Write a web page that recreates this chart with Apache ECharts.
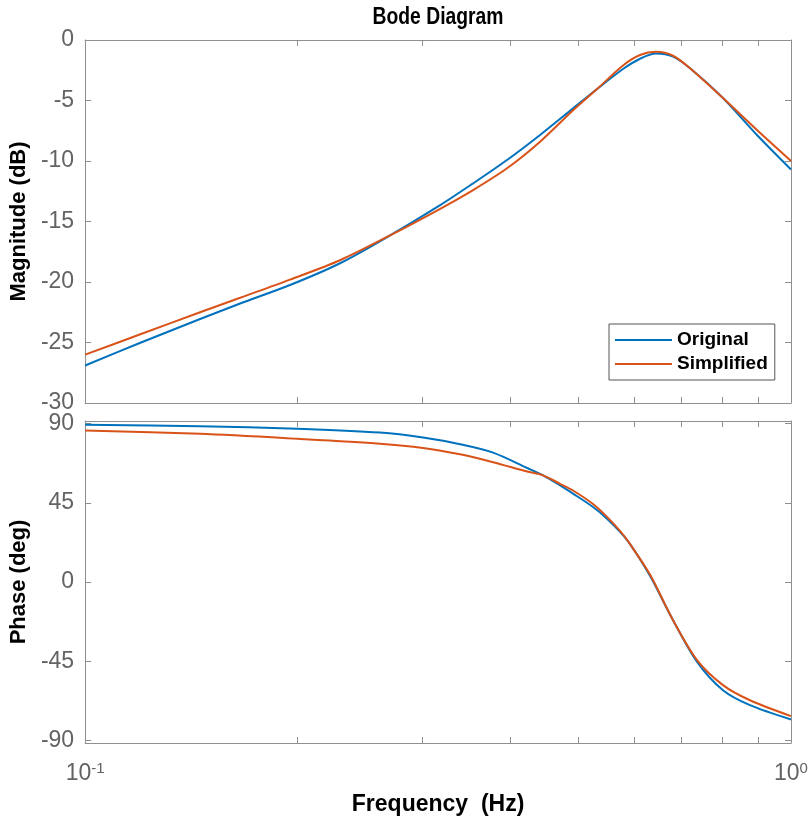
<!DOCTYPE html>
<html><head><meta charset="utf-8">
<script src="https://cdn.jsdelivr.net/npm/echarts@6/dist/echarts.min.js"></script>
<style>html,body{margin:0;padding:0;background:#fff}#c{width:811px;height:817px}</style>
</head><body><div id="c"></div><script>
// ---- data ----
const magFreq = [0.1, 0.12, 0.1455, 0.1658, 0.1951, 0.2297, 0.2704, 0.3184, 0.3545, 0.396, 0.4411, 0.4912, 0.5312, 0.5781, 0.6111, 0.6439, 0.6806, 0.7194, 0.801, 0.8949, 1.0];
const magOriginal = [-26.9, -25.0, -23.06, -21.78, -20.25, -18.45, -16.15, -13.65, -11.85, -9.92, -7.85, -5.65, -4.05, -2.4, -1.55, -1.12, -1.38, -2.34, -4.8, -7.85, -10.7];
const magSimplified = [-26.0, -24.3, -22.5, -21.3, -19.8, -18.2, -16.15, -13.95, -12.4, -10.6, -8.4, -5.8, -4.05, -2.1, -1.24, -0.98, -1.3, -2.34, -4.8, -7.44, -10.0];
const phaseFreq = [0.1, 0.1455, 0.1997, 0.2617, 0.3011, 0.3398, 0.3784, 0.4227, 0.4454, 0.4708, 0.4912, 0.5243, 0.5487, 0.5725, 0.5916, 0.6313, 0.6806, 0.7361, 0.801, 0.8747, 1.0];
const phaseOriginal = [89.3, 88.5, 87.1, 84.9, 82.1, 78.3, 73.5, 64.8, 60.6, 54.9, 50.2, 42.6, 36.0, 28.5, 21.5, 3.5, -21.7, -45.4, -61.5, -70.0, -78.1];
const phaseSimplified = [86.1, 84.2, 81.4, 78.6, 76.2, 72.6, 68.1, 62.8, 60.6, 55.8, 52.0, 44.3, 37.0, 29.0, 21.5, 4.2, -21.7, -44.4, -58.6, -67.2, -76.2];
const seriesNames = ['Original', 'Simplified'];
const xTickValues = [0.1, 0.2, 0.3, 0.4, 0.5, 0.6, 0.7, 0.8, 0.9, 1];
const xLabelValues = [0.1, 1];
const phaseTicks = [-90, -45, 0, 45, 90];
const titleText = 'Bode Diagram';
const magLabel = 'Magnitude (dB)';
const phaseLabel = 'Phase (deg)';
const freqLabel = 'Frequency  (Hz)';

const pairs = (xs, ys) => xs.map((x, i) => [x, ys[i]]);
const axisColor = '#8f8f8f';
const tickColor = '#636363';
const narrow = "'Liberation Sans Narrow', 'Liberation Sans', Arial, sans-serif";
const wide = "'Liberation Sans', Arial, sans-serif";
const blue = '#0072BD', orange = '#D95319';

function xAx(grid, pos, labels) {
  const a = {
    type: 'log', logBase: 10, gridIndex: grid, position: pos, min: 0.1, max: 1,
    axisLine: { show: true, onZero: false, lineStyle: { color: axisColor, width: 1 } },
    axisTick: { show: true, inside: true, length: 6, customValues: xTickValues, lineStyle: { color: axisColor } },
    axisLabel: { show: false },
    splitLine: { show: false }, minorTick: { show: false }
  };
  if (labels) {
    a.axisLabel = {
      show: true, customValues: xLabelValues, margin: 18,
      formatter: v => v < 0.5 ? '{b|10}{s|-1}' : '{b|10}{s|0}',
      rich: {
        b: { fontFamily: narrow, fontSize: 23, color: tickColor },
        s: { fontFamily: narrow, fontSize: 15, color: tickColor, verticalAlign: 'bottom', padding: [0, 0, 10, 0] }
      }
    };
    a.name = freqLabel; a.nameLocation = 'middle'; a.nameGap = 50;
    a.nameTextStyle = { fontFamily: narrow, fontWeight: 'bold', fontSize: 23, color: '#000' };
  }
  return a;
}
function yAx(grid, pos, opts, name) {
  const a = Object.assign({
    type: 'value', gridIndex: grid, position: pos,
    axisLine: { show: true, lineStyle: { color: axisColor, width: 1 } },
    axisTick: { show: true, inside: true, length: 6, lineStyle: { color: axisColor } },
    axisLabel: { show: pos === 'left', fontFamily: narrow, fontSize: 23, color: tickColor, margin: 11 },
    splitLine: { show: false }
  }, opts);
  if (name) {
    a.name = name; a.nameLocation = 'middle'; a.nameGap = 47;
    a.nameTextStyle = { fontFamily: wide, fontWeight: 'bold', fontSize: 22, color: '#000' };
  }
  return a;
}
const magOpts = { min: -30, max: 0, interval: 5 };
const phOptsL = { min: -91.5, max: 91.5,
  axisTick: { show: true, inside: true, length: 6, customValues: phaseTicks, lineStyle: { color: axisColor } },
  axisLabel: { show: true, customValues: phaseTicks, fontFamily: narrow, fontSize: 23, color: tickColor, margin: 11 } };
const phOptsR = { min: -91.5, max: 91.5,
  axisTick: { show: true, inside: true, length: 6, customValues: phaseTicks, lineStyle: { color: axisColor } },
  axisLabel: { show: false } };

const lineSeries = (name, color, xi, yi, data) => ({
  name, type: 'line', xAxisIndex: xi, yAxisIndex: yi, data,
  symbol: 'none', smooth: 0.3, lineStyle: { color, width: 2 }, itemStyle: { color },
  z: name === 'Simplified' ? 3 : 2, animation: false
});

const chart = echarts.init(document.getElementById('c'), null, { renderer: 'canvas' });
chart.setOption({
  backgroundColor: '#fff',
  animation: false,
  graphic: [{ type: 'text', x: 438, y: 6, scaleX: 0.84,
    style: { text: titleText, align: 'center', fontFamily: narrow, fontWeight: 'bold', fontSize: 23, fill: '#000' } }],
  grid: [
    { left: 85, top: 40, width: 706, height: 363, containLabel: false },
    { left: 85, top: 421, width: 706, height: 322, containLabel: false }
  ],
  xAxis: [xAx(0, 'bottom', false), xAx(0, 'top', false), xAx(1, 'bottom', true), xAx(1, 'top', false)],
  yAxis: [
    yAx(0, 'left', magOpts, magLabel), yAx(0, 'right', magOpts),
    yAx(1, 'left', phOptsL, phaseLabel), yAx(1, 'right', phOptsR)
  ],
  legend: {
    data: seriesNames.map(n => ({ name: n, icon: 'rect' })),
    orient: 'vertical', left: 609, top: 324,
    itemWidth: 57, itemHeight: 2, itemGap: 0, padding: [4, 7, 4, 6],
    borderColor: '#555', borderWidth: 1, backgroundColor: '#fff',
    textStyle: { fontFamily: wide, fontWeight: 'bold', fontSize: 19, lineHeight: 24, color: '#000' }
  },
  series: [
    lineSeries(seriesNames[0], blue, 0, 0, pairs(magFreq, magOriginal)),
    lineSeries(seriesNames[1], orange, 0, 0, pairs(magFreq, magSimplified)),
    lineSeries(seriesNames[0], blue, 2, 2, pairs(phaseFreq, phaseOriginal)),
    lineSeries(seriesNames[1], orange, 2, 2, pairs(phaseFreq, phaseSimplified))
  ]
});
</script></body></html>
